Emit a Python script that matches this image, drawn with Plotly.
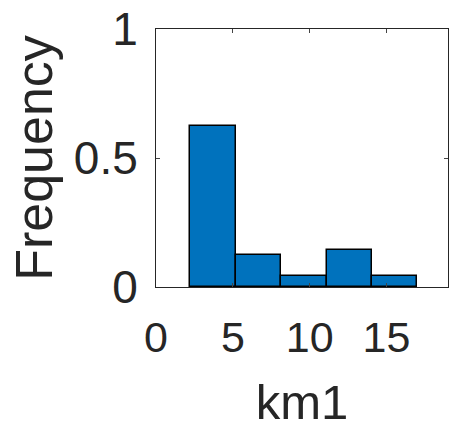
import plotly.graph_objects as go

bin_edges = [2.2, 5.2, 8.15, 11.1, 14.05, 17.0]
frequency = [0.625, 0.125, 0.044, 0.145, 0.044]
x_ticks = [0, 5, 10, 15]
y_ticks = [0, 0.5, 1]
y_tick_labels = ["0", "0.5", "1"]

centers = [(a + b) / 2 for a, b in zip(bin_edges[:-1], bin_edges[1:])]
widths = [b - a for a, b in zip(bin_edges[:-1], bin_edges[1:])]

fig = go.Figure(go.Bar(
    x=centers, y=frequency, width=widths,
    marker=dict(color="#0072BD", line=dict(color="black", width=1.5)),
))

font = "Arial, Liberation Sans, sans-serif"
fig.update_layout(
    width=450, height=429,
    margin=dict(l=156, r=2, t=29, b=142, autoexpand=False),
    plot_bgcolor="white", paper_bgcolor="white",
    showlegend=False,
    font=dict(family=font, color="#262626"),
    bargap=0,
)
fig.update_xaxes(
    range=[0, 19], tickvals=x_ticks, ticks="inside", ticklen=4,
    showline=True, linecolor="#262626", linewidth=1, mirror="ticks",
    showgrid=False, zeroline=False, automargin=False, ticklabelstandoff=12,
    ticklabeloverflow="allow",
    tickfont=dict(size=43, family=font, color="#262626"),
    title=dict(text="km1", font=dict(size=49, family=font, color="#262626"), standoff=25),
)
fig.update_yaxes(
    range=[0, 1], tickvals=y_ticks, ticktext=y_tick_labels, ticks="inside", ticklen=4,
    showline=True, linecolor="#262626", linewidth=1, mirror="ticks",
    showgrid=False, zeroline=False, automargin=False, ticklabelstandoff=8,
    ticklabeloverflow="allow",
    tickfont=dict(size=46, family=font, color="#262626"),
    title=dict(text="Frequency", font=dict(size=52, family=font, color="#262626"), standoff=4),
)
fig.write_html(
    "out.html",
    config={"displayModeBar": False},
    post_script="document.body.style.margin='0';document.body.style.overflow='hidden';",
)
